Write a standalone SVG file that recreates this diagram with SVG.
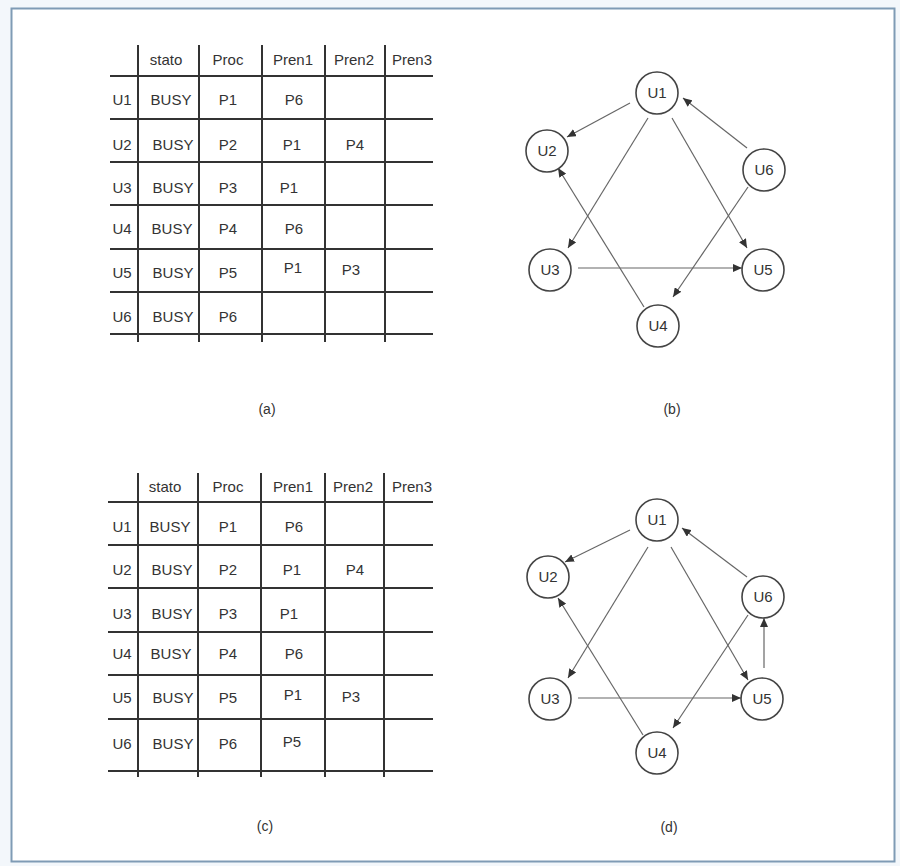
<svg xmlns="http://www.w3.org/2000/svg" width="900" height="866" viewBox="0 0 900 866">
  <style>
    .frame { fill: #ffffff; stroke: #7f9bb5; stroke-width: 2; }
    .grid line { stroke: #333333; stroke-width: 2; }
    .cell { font-family: "Liberation Sans", Arial, sans-serif; font-size: 15px; fill: #333333; text-anchor: middle; }
    .cap { font-family: "Liberation Sans", Arial, sans-serif; font-size: 14px; fill: #333333; text-anchor: middle; }
    .node circle { fill: #ffffff; stroke: #444444; stroke-width: 1.6; }
    .node text { font-family: "Liberation Sans", Arial, sans-serif; font-size: 15px; fill: #333333; text-anchor: middle; }
    .edges line { stroke: #666666; stroke-width: 1.2; marker-end: url(#arrow); }
  </style>
  <defs>
    <marker id="arrow" markerUnits="userSpaceOnUse" markerWidth="10" markerHeight="8" refX="9" refY="4" orient="auto">
      <path d="M0,0 L9,4 L0,8 Z" fill="#333333"/>
    </marker>
  </defs>

  <!-- page background and frame -->
  <rect x="0" y="0" width="900" height="866" fill="#f3f7fb"/>
  <rect class="frame" x="11.5" y="8.5" width="883" height="853"/>

  <!-- table (a) -->
  <g id="table-a">
    <g class="grid">
      <line x1="138" y1="45" x2="138" y2="342"/>
      <line x1="199" y1="45" x2="199" y2="342"/>
      <line x1="262" y1="45" x2="262" y2="342"/>
      <line x1="325" y1="45" x2="325" y2="342"/>
      <line x1="385" y1="45" x2="385" y2="342"/>
      <line x1="110" y1="76" x2="433" y2="76"/>
      <line x1="110" y1="119" x2="433" y2="119"/>
      <line x1="110" y1="162" x2="433" y2="162"/>
      <line x1="110" y1="205" x2="433" y2="205"/>
      <line x1="110" y1="249" x2="433" y2="249"/>
      <line x1="110" y1="292" x2="433" y2="292"/>
      <line x1="110" y1="334" x2="433" y2="334"/>
    </g>
    <g class="cell">
      <text x="166" y="65">stato</text>
      <text x="228" y="65">Proc</text>
      <text x="293" y="65">Pren1</text>
      <text x="354" y="65">Pren2</text>
      <text x="412" y="65">Pren3</text>

      <text x="122" y="105">U1</text>
      <text x="171" y="105">BUSY</text>
      <text x="228" y="105">P1</text>
      <text x="294" y="105">P6</text>

      <text x="122" y="150">U2</text>
      <text x="173" y="150">BUSY</text>
      <text x="228" y="150">P2</text>
      <text x="292" y="150">P1</text>
      <text x="355" y="150">P4</text>

      <text x="122" y="193">U3</text>
      <text x="173" y="193">BUSY</text>
      <text x="228" y="193">P3</text>
      <text x="289" y="193">P1</text>

      <text x="122" y="234">U4</text>
      <text x="172" y="234">BUSY</text>
      <text x="228" y="234">P4</text>
      <text x="294" y="234">P6</text>

      <text x="122" y="278">U5</text>
      <text x="173" y="278">BUSY</text>
      <text x="228" y="278">P5</text>
      <text x="293" y="273">P1</text>
      <text x="351" y="275">P3</text>

      <text x="122" y="322">U6</text>
      <text x="173" y="322">BUSY</text>
      <text x="228" y="322">P6</text>
    </g>
    <text class="cap" x="267" y="414">(a)</text>
  </g>

  <!-- table (c) -->
  <g id="table-c">
    <g class="grid">
      <line x1="138" y1="473" x2="138" y2="777"/>
      <line x1="198" y1="473" x2="198" y2="777"/>
      <line x1="261" y1="473" x2="261" y2="777"/>
      <line x1="325" y1="473" x2="325" y2="777"/>
      <line x1="384" y1="473" x2="384" y2="777"/>
      <line x1="108" y1="502" x2="433" y2="502"/>
      <line x1="108" y1="545" x2="433" y2="545"/>
      <line x1="108" y1="588" x2="433" y2="588"/>
      <line x1="108" y1="632" x2="433" y2="632"/>
      <line x1="108" y1="675" x2="433" y2="675"/>
      <line x1="108" y1="719" x2="433" y2="719"/>
      <line x1="108" y1="771" x2="433" y2="771"/>
    </g>
    <g class="cell">
      <text x="165" y="492">stato</text>
      <text x="228" y="492">Proc</text>
      <text x="293" y="492">Pren1</text>
      <text x="353" y="492">Pren2</text>
      <text x="412" y="492">Pren3</text>

      <text x="122" y="532">U1</text>
      <text x="170" y="532">BUSY</text>
      <text x="228" y="532">P1</text>
      <text x="294" y="532">P6</text>

      <text x="122" y="575">U2</text>
      <text x="172" y="575">BUSY</text>
      <text x="228" y="575">P2</text>
      <text x="292" y="575">P1</text>
      <text x="355" y="575">P4</text>

      <text x="122" y="619">U3</text>
      <text x="172" y="619">BUSY</text>
      <text x="228" y="619">P3</text>
      <text x="289" y="619">P1</text>

      <text x="122" y="659">U4</text>
      <text x="171" y="659">BUSY</text>
      <text x="228" y="659">P4</text>
      <text x="294" y="659">P6</text>

      <text x="122" y="703">U5</text>
      <text x="173" y="703">BUSY</text>
      <text x="228" y="703">P5</text>
      <text x="293" y="700">P1</text>
      <text x="351" y="702">P3</text>

      <text x="122" y="749">U6</text>
      <text x="173" y="749">BUSY</text>
      <text x="228" y="749">P6</text>
      <text x="292" y="747">P5</text>
    </g>
    <text class="cap" x="265" y="831">(c)</text>
  </g>

  <!-- graph (b): connectors -->
  <g id="edges-b" class="edges">
    <line x1="630" y1="103" x2="567" y2="137"/>
    <line x1="648" y1="118" x2="568" y2="248"/>
    <line x1="672" y1="118" x2="747" y2="248"/>
    <line x1="747" y1="148" x2="683" y2="98"/>
    <line x1="748" y1="187" x2="673" y2="297"/>
    <line x1="578" y1="268" x2="742" y2="268"/>
    <line x1="644" y1="307" x2="558" y2="168"/>
  </g>
  <!-- graph (b): nodes -->
  <g id="b-U1" class="node"><circle cx="657" cy="93" r="21"/><text x="657" y="98">U1</text></g>
  <g id="b-U2" class="node"><circle cx="547" cy="151" r="21"/><text x="547" y="156">U2</text></g>
  <g id="b-U6" class="node"><circle cx="764" cy="170" r="21"/><text x="764" y="175">U6</text></g>
  <g id="b-U3" class="node"><circle cx="550" cy="270" r="21"/><text x="550" y="275">U3</text></g>
  <g id="b-U5" class="node"><circle cx="763" cy="270" r="21"/><text x="763" y="275">U5</text></g>
  <g id="b-U4" class="node"><circle cx="658" cy="326" r="21"/><text x="658" y="331">U4</text></g>
  <text class="cap" x="672" y="414">(b)</text>

  <!-- graph (d): connectors -->
  <g id="edges-d" class="edges">
    <line x1="630" y1="530" x2="565" y2="562"/>
    <line x1="648" y1="547" x2="568" y2="678"/>
    <line x1="671" y1="547" x2="748" y2="680"/>
    <line x1="747" y1="577" x2="682" y2="528"/>
    <line x1="748" y1="615" x2="673" y2="728"/>
    <line x1="578" y1="698" x2="741" y2="698"/>
    <line x1="643" y1="735" x2="558" y2="598"/>
    <line x1="764" y1="668" x2="764" y2="618"/>
  </g>
  <!-- graph (d): nodes -->
  <g id="d-U1" class="node"><circle cx="657" cy="520" r="21"/><text x="657" y="525">U1</text></g>
  <g id="d-U2" class="node"><circle cx="548" cy="577" r="21"/><text x="548" y="582">U2</text></g>
  <g id="d-U6" class="node"><circle cx="763" cy="597" r="21"/><text x="763" y="602">U6</text></g>
  <g id="d-U3" class="node"><circle cx="550" cy="699" r="21"/><text x="550" y="704">U3</text></g>
  <g id="d-U5" class="node"><circle cx="762" cy="699" r="21"/><text x="762" y="704">U5</text></g>
  <g id="d-U4" class="node"><circle cx="657" cy="753" r="21"/><text x="657" y="758">U4</text></g>
  <text class="cap" x="669" y="832">(d)</text>
</svg>
